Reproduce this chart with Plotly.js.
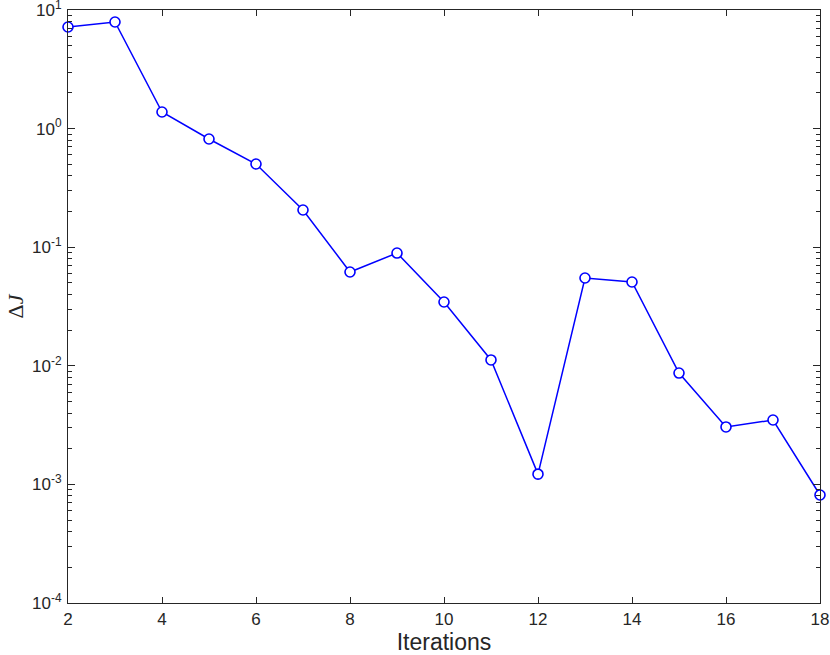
<!DOCTYPE html>
<html>
<head>
<script src="https://cdn.plot.ly/plotly-3.0.1.min.js"></script>
<style>html,body{margin:0;padding:0;background:#fff;}#chart{width:830px;height:655px;}</style>
</head>
<body>
<div id="chart"></div>
<script>
const iterations = [2, 3, 4, 5, 6, 7, 8, 9, 10, 11, 12, 13, 14, 15, 16, 17, 18];
const deltaJ = [7.19, 7.92, 1.38, 0.817, 0.503, 0.206, 0.0618, 0.0893, 0.0345, 0.0112, 0.00122, 0.0550, 0.0509, 0.00869, 0.00305, 0.00349, 0.000814];
const xTicks = [2, 4, 6, 8, 10, 12, 14, 16, 18];
const yTickVals = [1e-4, 1e-3, 1e-2, 1e-1, 1e0, 1e1];
const yTickText = ['10<sup>-4</sup>', '10<sup>-3</sup>', '10<sup>-2</sup>', '10<sup>-1</sup>', '10<sup>0</sup>', '10<sup>1</sup>'];

const minorVals = [];
for (let e = -4; e < 1; e++) for (let m = 2; m <= 9; m++) minorVals.push(m * Math.pow(10, e));

const axisColor = '#262626';
const trace = {
  x: iterations, y: deltaJ, type: 'scatter', mode: 'lines+markers',
  line: {color: '#0000ff', width: 1.5},
  marker: {symbol: 'circle', size: 10, color: '#ffffff', line: {color: '#0000ff', width: 1.6}},
  cliponaxis: false, hoverinfo: 'none'
};
const ghost = {
  x: iterations, y: deltaJ, type: 'scatter', mode: 'markers', yaxis: 'y2',
  marker: {opacity: 0}, hoverinfo: 'none', showlegend: false
};
const layout = {
  width: 830, height: 655,
  margin: {l: 68, r: 10, t: 10, b: 52},
  paper_bgcolor: '#fff', plot_bgcolor: '#fff',
  showlegend: false,
  font: {family: 'Liberation Sans, Arial, sans-serif', color: axisColor},
  xaxis: {
    range: [2, 18], tickvals: xTicks, ticktext: xTicks.map(String),
    ticks: 'inside', ticklen: 6, tickcolor: axisColor, tickwidth: 1,
    showline: true, linecolor: axisColor, linewidth: 1, mirror: 'ticks',
    showgrid: false, zeroline: false, ticklabelstandoff: 1,
    ticklabeloverflow: 'allow',
    tickfont: {size: 17, color: axisColor},
    title: {text: 'Iterations', font: {size: 23, color: axisColor}, standoff: 0}
  },
  yaxis: {
    type: 'log', range: [-4, 1], tickvals: yTickVals, ticktext: yTickText,
    ticks: 'inside', ticklen: 7, tickcolor: axisColor, tickwidth: 1,
    showline: true, linecolor: axisColor, linewidth: 1, mirror: 'ticks',
    showgrid: false, zeroline: false, ticklabelstandoff: 2,
    ticklabeloverflow: 'allow',
    tickfont: {size: 17, color: axisColor},
    title: {text: 'Δ<i>J</i>', font: {size: 22, color: axisColor, family: 'Liberation Serif, serif'}, standoff: 2}
  },
  yaxis2: {
    type: 'log', range: [-4, 1], overlaying: 'y', side: 'left', anchor: 'x',
    tickmode: 'array', tickvals: minorVals, showticklabels: false,
    ticks: 'inside', ticklen: 4, tickcolor: axisColor, tickwidth: 1,
    showline: true, linecolor: axisColor, linewidth: 1, mirror: 'ticks', showgrid: false, zeroline: false
  }
};
Plotly.newPlot('chart', [trace, ghost], layout, {displayModeBar: false, staticPlot: true});
</script>
</body>
</html>
